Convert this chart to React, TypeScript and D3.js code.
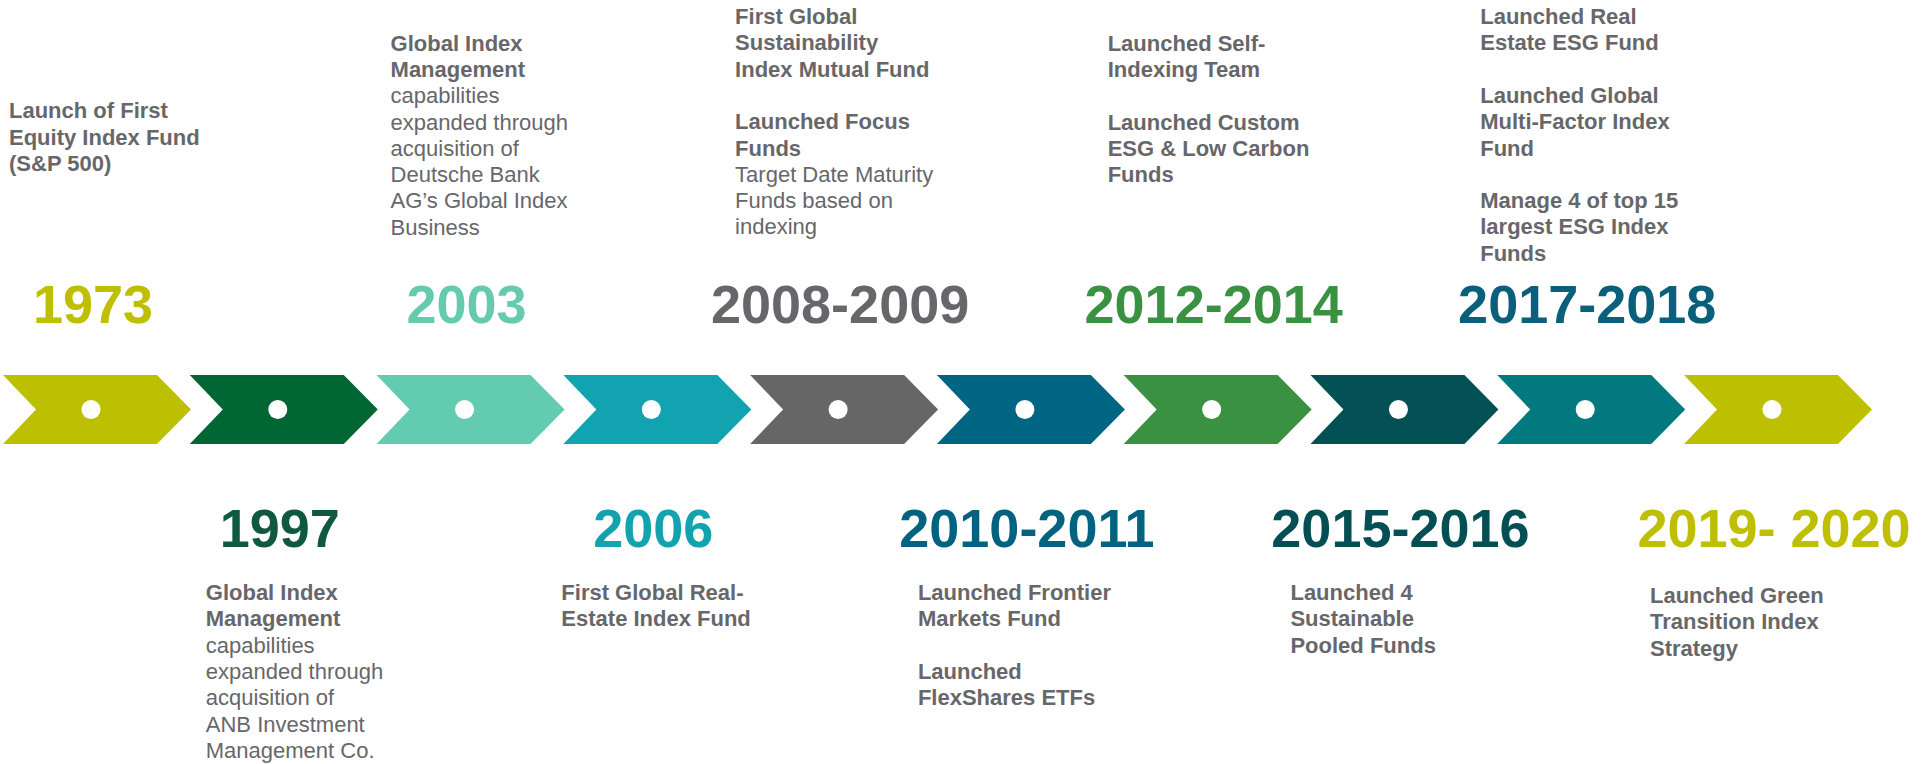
import React, { useRef, useEffect } from 'react';
import * as d3 from 'd3';

// Etiquetas de cada hito
const years = ['1973', '1997', '2003', '2006', '2008-2009', '2010-2011', '2012-2014', '2015-2016', '2017-2018', '2019- 2020'];

const chevronColors = ['#bdc000', '#006633', '#63cbaf', '#12a3b0', '#666666', '#006483', '#3a9142', '#035155', '#01797e', '#bdc000'];
const yearColors = ['#bdbf00', '#0f5a3e', '#66cbad', '#13a3af', '#67676b', '#03627f', '#3a9142', '#034f53', '#0a5f7a', '#bdbf00'];

// [texto, negrita]  ('' = linea en blanco)
type Line = [string, boolean];
const desc1973: Line[] = [['Launch of First', true], ['Equity Index Fund', true], ['(S&P 500)', true]];
const desc1997: Line[] = [['Global Index', true], ['Management', true], ['capabilities', false], ['expanded through', false], ['acquisition of', false], ['ANB Investment', false], ['Management Co.', false]];
const desc2003: Line[] = [['Global Index', true], ['Management', true], ['capabilities', false], ['expanded through', false], ['acquisition of', false], ['Deutsche Bank', false], ['AG\u2019s Global Index', false], ['Business', false]];
const desc2006: Line[] = [['First Global Real-', true], ['Estate Index Fund', true]];
const desc2008: Line[] = [['First Global', true], ['Sustainability', true], ['Index Mutual Fund', true], ['', false], ['Launched Focus', true], ['Funds', true], ['Target Date Maturity', false], ['Funds based on', false], ['indexing', false]];
const desc2010: Line[] = [['Launched Frontier', true], ['Markets Fund', true], ['', false], ['Launched', true], ['FlexShares ETFs', true]];
const desc2012: Line[] = [['Launched Self-', true], ['Indexing Team', true], ['', false], ['Launched Custom', true], ['ESG & Low Carbon', true], ['Funds', true]];
const desc2015: Line[] = [['Launched 4', true], ['Sustainable', true], ['Pooled Funds', true]];
const desc2017: Line[] = [['Launched Real', true], ['Estate ESG Fund', true], ['', false], ['Launched Global', true], ['Multi-Factor Index', true], ['Fund', true], ['', false], ['Manage 4 of top 15', true], ['largest ESG Index', true], ['Funds', true]];
const desc2019: Line[] = [['Launched Green', true], ['Transition Index', true], ['Strategy', true]];

const descriptions = [desc1973, desc1997, desc2003, desc2006, desc2008, desc2010, desc2012, desc2015, desc2017, desc2019];

const plot = (svgRef) => {
     const svg = d3.select(svgRef.current);
     svg.selectAll('*').remove();

     const font = '"Liberation Sans", Arial, sans-serif';
     const gray = '#67676a';

     // posicion de cada flecha segun su indice
     const xScale = d3.scaleLinear()
          .domain([0, years.length - 1])
          .range([3, 1684]);

     const top = 375, bottom = 444, mid = (top + bottom) / 2;
     const body = 154, tip = 34, notch = 33;
     const lineH = 26.3;

     // ajustes a mano de las cajas de texto (como en la diapositiva)
     const descDx = [6, 16, 14, -2, -15, -19, -16, -20, -17, -34];
     const descY = [118.3, 600, 50.7, 600, 24, 600, 50.7, 600, 24, 603];

     const chevron = d3.line();

     const g = svg.append('g');

     years.forEach((yr, i) => {
          const l = xScale(i);
          const isTop = i % 2 === 0;

          g.append('path')
               .attr('d', chevron([[l, top], [l + body, top], [l + body + tip, mid], [l + body, bottom], [l, bottom], [l + notch, mid]]) + 'Z')
               .attr('fill', chevronColors[i]);

          g.append('circle')
               .attr('cx', l + 88)
               .attr('cy', mid)
               .attr('r', 9.5)
               .attr('fill', '#ffffff');

          g.append('text')
               .attr('x', l + 90)
               .attr('y', isTop ? 322.7 : 546.7)
               .attr('text-anchor', 'middle')
               .attr('font-family', font)
               .attr('font-weight', 'bold')
               .attr('font-size', '54px')
               .attr('fill', yearColors[i])
               .text(yr);

          const t = g.append('g')
               .attr('transform', `translate(${l + descDx[i]}, ${descY[i]})`);

          descriptions[i].forEach(([txt, b], k) => {
               if (!txt) return;
               t.append('text')
                    .attr('x', 0)
                    .attr('y', k * lineH)
                    .attr('font-family', font)
                    .attr('font-size', '22px')
                    .attr('font-weight', b ? 'bold' : 'normal')
                    .attr('fill', gray)
                    .text(txt);
          });
     });
};

export default function App() {
     const svgRef = useRef(null);

     useEffect(() => {
          plot(svgRef);
     }, [svgRef]);

     return (
          <svg ref={svgRef} width={1925} height={764}
               style={{ position: 'absolute', left: 0, top: 0, background: '#ffffff' }} />
     );
}
